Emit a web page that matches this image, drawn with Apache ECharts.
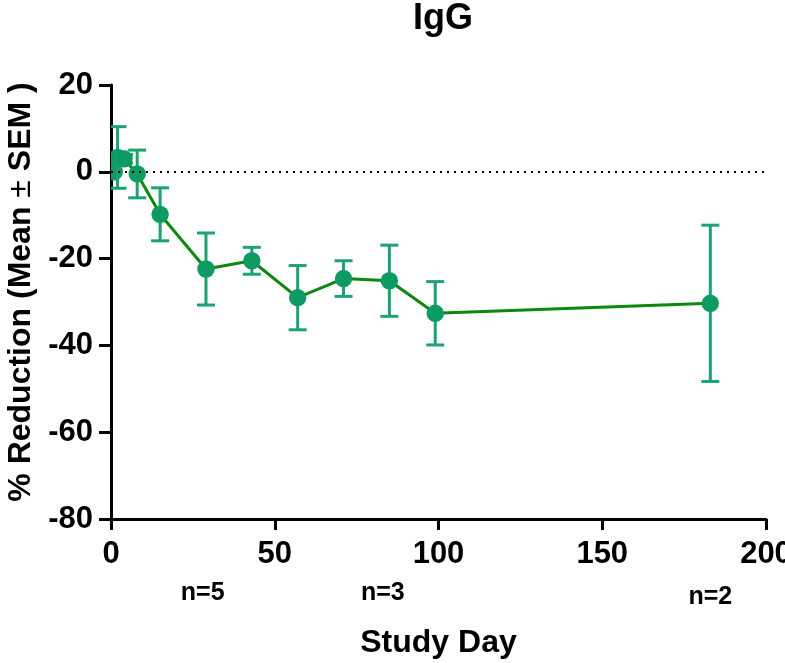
<!DOCTYPE html>
<html>
<head>
<meta charset="utf-8">
<script src="https://cdn.jsdelivr.net/npm/echarts@6/dist/echarts.min.js"></script>
<style>html,body{margin:0;padding:0;background:#fff}#c{width:785px;height:663px}</style>
</head>
<body>
<div id="c"></div>
<script>
// ---- data ----
var studyDays = [1, 2, 4, 8, 15, 29, 43, 57, 71, 85, 99, 183];
var meanValues = [0, 3.3, 3.0, -0.5, -9.8, -22.4, -20.5, -29.0, -24.6, -25.1, -32.6, -30.3];
var semValues = [0, 7.1, 1.0, 5.5, 6.1, 8.3, 3.1, 7.4, 4.1, 8.2, 7.3, 18.0];
var xTicks = [0, 50, 100, 150, 200];
var yTicks = [-80, -60, -40, -20, 0, 20];
var nLabelDays = [28, 83, 183];
var nLabelTexts = ['n=5', 'n=3', 'n=2'];
var nLabelDrop = [74, 74, 78];

var FONT = '"Liberation Sans", Arial, sans-serif';
var lineColor = '#0e870f';
var markerColor = '#0e9b63';
var barColor = '#1ca36f';

var lineData = studyDays.map(function (d, i) { return [d, meanValues[i]]; });
var errData = studyDays.map(function (d, i) { return [d, meanValues[i], semValues[i]]; });

var chart = echarts.init(document.getElementById('c'), null, { renderer: 'canvas' });
var option = {
  animation: false,
  backgroundColor: '#fff',
  title: {
    text: 'IgG', left: 438, top: -4, textAlign: 'center',
    textStyle: { fontFamily: FONT, fontWeight: 'bold', fontSize: 36, color: '#000' }
  },
  grid: { left: 111, right: 19, top: 85, bottom: 144, containLabel: false, outerBoundsMode: 'none' },
  xAxis: {
    type: 'value', min: xTicks[0], max: xTicks[xTicks.length - 1], interval: xTicks[1] - xTicks[0],
    name: 'Study Day', nameLocation: 'middle', nameGap: 108,
    nameTextStyle: { fontFamily: FONT, fontWeight: 'bold', fontSize: 32, color: '#000' },
    axisLine: { show: true, onZero: false, lineStyle: { color: '#000', width: 3 } },
    axisTick: { show: true, length: 11, lineStyle: { color: '#000', width: 3 } },
    axisLabel: { margin: 20, fontFamily: FONT, fontWeight: 'bold', fontSize: 31, color: '#000' },
    splitLine: { show: false }
  },
  yAxis: {
    type: 'value', min: yTicks[0], max: yTicks[yTicks.length - 1], interval: yTicks[1] - yTicks[0],
    name: '% Reduction (Mean {pm|±} SEM )', nameLocation: 'middle', nameRotate: 90, nameGap: 74,
    nameTextStyle: {
      fontFamily: FONT, fontWeight: 'bold', fontSize: 32, color: '#000', padding: [0, 0, 0, 20],
      rich: { pm: { fontFamily: FONT, fontWeight: 'normal', fontSize: 32, color: '#000' } }
    },
    axisLine: { show: true, onZero: false, lineStyle: { color: '#000', width: 3 } },
    axisTick: { show: true, length: 12, lineStyle: { color: '#000', width: 3 } },
    axisLabel: { margin: 18, fontFamily: FONT, fontWeight: 'bold', fontSize: 31, color: '#000' },
    splitLine: { show: false }
  },
  series: [
    {
      type: 'line', data: lineData, showSymbol: false, symbol: 'none', z: 2,
      lineStyle: { color: lineColor, width: 3 },
      markLine: {
        silent: true, symbol: 'none', label: { show: false },
        lineStyle: { color: '#000', type: [2, 5], width: 2 },
        data: [{ yAxis: 0 }]
      }
    },
    {
      type: 'custom', data: errData, z: 3, clip: true,
      renderItem: function (params, api) {
        var x = api.value(0), m = api.value(1), s = api.value(2);
        var c = api.coord([x, m]);
        var children = [];
        if (s > 0) {
          var hi = api.coord([x, m + s]);
          var lo = api.coord([x, m - s]);
          var cw = 9;
          var st = { stroke: barColor, lineWidth: 3 };
          children.push({ type: 'line', shape: { x1: c[0], y1: hi[1], x2: c[0], y2: lo[1] }, style: st });
          children.push({ type: 'line', shape: { x1: c[0] - cw, y1: hi[1], x2: c[0] + cw, y2: hi[1] }, style: st });
          children.push({ type: 'line', shape: { x1: c[0] - cw, y1: lo[1], x2: c[0] + cw, y2: lo[1] }, style: st });
        }
        children.push({ type: 'circle', shape: { cx: c[0], cy: c[1], r: 8.7 }, style: { fill: markerColor } });
        return { type: 'group', children: children };
      }
    }
  ]
};
chart.setOption(option);

var gridBottomY = chart.convertToPixel({ yAxisIndex: 0 }, yTicks[0]);
var gtexts = nLabelDays.map(function (d, i) {
  var px = chart.convertToPixel({ xAxisIndex: 0 }, d);
  return {
    type: 'text', x: px, y: gridBottomY + nLabelDrop[i],
    style: {
      text: nLabelTexts[i], fill: '#000', font: 'bold 25px ' + FONT,
      textAlign: 'center', textVerticalAlign: 'middle'
    }
  };
});
chart.setOption({ graphic: gtexts });
</script>
</body>
</html>
